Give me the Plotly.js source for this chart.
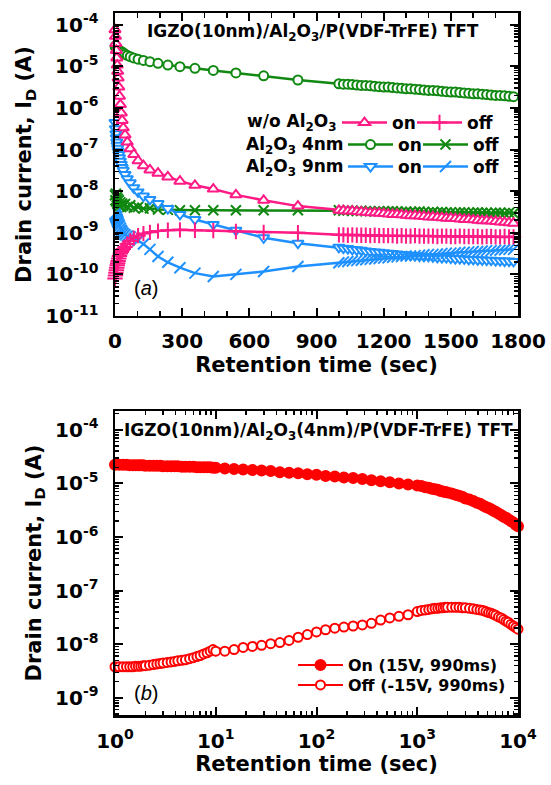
<!DOCTYPE html>
<html><head><meta charset="utf-8">
<script src="https://cdn.plot.ly/plotly-3.0.1.min.js"></script>
<style>html,body{margin:0;padding:0;background:#fff}#chart{width:551px;height:785px}</style>
</head><body><div id="chart"></div>
<script>
// ---------- Panel (a): retention vs linear time (s); currents given as log10(I/A) ----------
const timeA = [0,2,4,6,8,10,12,14,17,20,24,28,32,
  37,45,55,68,84,103,127,156,192,236,290,357,439,540,664,817,
  1000,1020,1040,1060,1080,1100,1120,1140,1160,1180,1200,1220,1240,1260,1280,1300,1320,1340,1360,1380,
  1400,1420,1440,1460,1480,1500,1520,1540,1560,1580,1600,1620,1640,1660,1680,1700,1720,1740,1760,1780];

const logA_noAl_on = [-4.12,-4.28,-4.45,-4.62,-4.80,-4.97,-5.12,-5.28,-5.50,-5.72,-5.92,-6.12,-6.30,
  -6.48,-6.65,-6.82,-6.98,-7.12,-7.27,-7.39,-7.49,-7.57,-7.66,-7.76,-7.86,-7.95,-8.09,-8.22,-8.36,
  -8.46,-8.47,-8.48,-8.48,-8.49,-8.50,-8.51,-8.52,-8.52,-8.53,
  -8.54,-8.55,-8.56,-8.56,-8.57,-8.58,-8.59,-8.59,-8.60,-8.61,
  -8.62,-8.62,-8.63,-8.64,-8.65,-8.65,-8.66,-8.67,-8.68,-8.68,
  -8.69,-8.70,-8.71,-8.71,-8.72,-8.73,-8.74,-8.75,-8.76,-8.77];
const logA_noAl_off = [-10.10,-10.03,-9.96,-9.90,-9.84,-9.78,-9.73,-9.68,-9.62,-9.56,-9.50,-9.46,-9.42,
  -9.39,-9.34,-9.27,-9.20,-9.13,-9.07,-9.02,-8.99,-8.96,-8.94,-8.93,-8.94,-8.95,-8.97,-8.99,-9.00,
  -9.05,-9.05,-9.06,-9.05,-9.06,-9.06,-9.06,-9.07,-9.06,-9.07,
  -9.07,-9.07,-9.07,-9.08,-9.07,-9.08,-9.08,-9.07,-9.08,-9.08,
  -9.08,-9.08,-9.09,-9.08,-9.08,-9.09,-9.09,-9.08,-9.09,-9.09,
  -9.09,-9.09,-9.10,-9.09,-9.09,-9.10,-9.10,-9.09,-9.10,-9.10];
const logA_4nm_on = [-4.52,-4.54,-4.55,-4.57,-4.58,-4.59,-4.60,-4.61,-4.62,-4.63,-4.64,-4.65,-4.66,
  -4.68,-4.71,-4.74,-4.77,-4.80,-4.83,-4.86,-4.89,-4.93,-4.97,-5.01,-5.05,-5.10,-5.16,-5.23,-5.33,
  -5.42,-5.43,-5.43,-5.44,-5.45,-5.46,-5.46,-5.47,-5.48,-5.49,
  -5.50,-5.50,-5.51,-5.52,-5.53,-5.54,-5.54,-5.55,-5.56,-5.57,
  -5.58,-5.58,-5.59,-5.60,-5.61,-5.62,-5.62,-5.63,-5.64,-5.65,
  -5.66,-5.66,-5.67,-5.68,-5.69,-5.70,-5.70,-5.71,-5.72,-5.73];
const logA_4nm_off = [-8.10,-8.22,-8.06,-8.25,-8.14,-8.30,-8.18,-8.33,-8.22,-8.36,-8.27,-8.38,-8.30,
  -8.35,-8.31,-8.38,-8.34,-8.40,-8.38,-8.42,-8.41,-8.44,-8.45,-8.46,-8.46,-8.46,-8.46,-8.46,-8.46,
  -8.46,-8.47,-8.46,-8.47,-8.48,-8.47,-8.48,-8.48,-8.49,-8.48,
  -8.49,-8.49,-8.48,-8.49,-8.50,-8.49,-8.50,-8.50,-8.49,-8.50,
  -8.51,-8.50,-8.51,-8.50,-8.51,-8.51,-8.52,-8.51,-8.51,-8.52,
  -8.52,-8.51,-8.52,-8.52,-8.53,-8.52,-8.52,-8.53,-8.52,-8.53];
const logA_9nm_on = [-6.35,-6.50,-6.62,-6.72,-6.82,-6.90,-6.97,-7.04,-7.12,-7.20,-7.28,-7.36,-7.43,
  -7.50,-7.60,-7.70,-7.80,-7.92,-8.02,-8.12,-8.20,-8.30,-8.42,-8.56,-8.68,-8.80,-8.94,-9.12,-9.25,
  -9.35,-9.37,-9.38,-9.40,-9.41,-9.42,-9.44,-9.45,-9.46,-9.47,
  -9.48,-9.49,-9.50,-9.51,-9.52,-9.53,-9.54,-9.55,-9.56,-9.57,
  -9.57,-9.58,-9.59,-9.60,-9.60,-9.61,-9.62,-9.62,-9.63,-9.64,
  -9.64,-9.65,-9.65,-9.66,-9.66,-9.67,-9.67,-9.68,-9.68,-9.69];
const logA_9nm_off = [-8.55,-8.58,-8.61,-8.64,-8.67,-8.70,-8.73,-8.76,-8.80,-8.84,-8.89,-8.94,-8.98,
  -9.02,-9.05,-9.08,-9.10,-9.13,-9.19,-9.27,-9.40,-9.57,-9.71,-9.84,-9.97,-10.05,-10.00,-9.93,-9.81,
  -9.72,-9.70,-9.69,-9.68,-9.67,-9.66,-9.65,-9.64,-9.63,-9.62,
  -9.61,-9.60,-9.59,-9.58,-9.57,-9.56,-9.56,-9.55,-9.54,-9.53,
  -9.52,-9.52,-9.51,-9.50,-9.49,-9.49,-9.48,-9.47,-9.47,-9.46,
  -9.45,-9.45,-9.44,-9.43,-9.43,-9.42,-9.42,-9.41,-9.40,-9.40];

// ---------- Panel (b): retention vs log time (s) ----------
const timeB = [1,1.1,1.2,1.3,1.4,1.5,1.6,1.7,1.8,1.9,2,2.2,2.4,2.6,2.8,3,3.3,3.6,3.9,4.2,4.6,5,5.5,6,6.5,7,7.6,8.2,8.8,9.4,
  10,12.3,15.2,18.7,23.1,28.5,35.1,43.3,53.4,65.8,81.1,100,123,152,187,231,285,351,433,534,658,811,
  1000,1100,1200,1300,1400,1500,1600,1700,1800,1900,2000,2200,2400,2600,2800,3000,3300,3600,3900,4200,
  4500,4800,5100,5400,5700,6000,6400,6800,7200,7600,8000,8500,9000,9500,10000];
const logB_on = [-4.65,-4.65,-4.65,-4.65,-4.66,-4.66,-4.66,-4.66,-4.66,-4.66,-4.67,-4.67,-4.67,-4.67,-4.67,
  -4.68,-4.68,-4.68,-4.68,-4.68,-4.69,-4.69,-4.69,-4.69,-4.70,-4.70,-4.70,-4.70,-4.70,-4.71,
  -4.71,-4.72,-4.73,-4.74,-4.75,-4.76,-4.77,-4.79,-4.80,-4.81,-4.83,-4.84,-4.86,-4.87,-4.89,-4.90,-4.92,-4.94,-4.96,-4.98,-5.00,-5.02,
  -5.04,-5.05,-5.07,-5.08,-5.10,-5.11,-5.12,-5.14,-5.15,-5.16,-5.17,-5.19,-5.21,-5.23,-5.25,-5.28,-5.30,-5.33,-5.36,-5.38,
  -5.41,-5.44,-5.46,-5.48,-5.51,-5.53,-5.56,-5.59,-5.62,-5.64,-5.67,-5.70,-5.73,-5.77,-5.80];
const logB_off = [-8.42,-8.42,-8.42,-8.42,-8.42,-8.42,-8.41,-8.41,-8.41,-8.40,-8.40,-8.39,-8.38,-8.37,-8.36,
  -8.35,-8.34,-8.33,-8.32,-8.31,-8.30,-8.29,-8.27,-8.25,-8.23,-8.21,-8.18,-8.16,-8.13,-8.10,
  -8.13,-8.13,-8.10,-8.06,-8.04,-8.02,-7.99,-7.97,-7.93,-7.87,-7.82,-7.77,-7.73,-7.70,-7.68,-7.66,-7.64,-7.61,-7.55,-7.51,-7.48,-7.45,
  -7.39,-7.37,-7.36,-7.35,-7.34,-7.33,-7.33,-7.32,-7.32,-7.31,-7.31,-7.31,-7.31,-7.31,-7.32,-7.32,-7.33,-7.34,-7.35,-7.36,
  -7.37,-7.39,-7.41,-7.42,-7.44,-7.46,-7.49,-7.51,-7.54,-7.57,-7.59,-7.63,-7.66,-7.69,-7.72];

// tick labels
const decadesA = [-11,-10,-9,-8,-7,-6,-5,-4];
const decadesB = [-9,-8,-7,-6,-5,-4];
const decadesX = [0,1,2,3,4];

// ---------- styling ----------
const FONT = 'DejaVu Sans, sans-serif';
const PINK = '#FF1A85', GREEN = '#118811', BLUE = '#1E90FF', RED = '#FF0000';
const toI = a => a.map(v => Math.pow(10, v));
const sup = d => '10<sup>' + d + '</sup>';
function minorVals(lo, hi) { const v = []; for (let d = lo; d < hi; d++) for (let k = 2; k <= 9; k++) v.push(k * Math.pow(10, d)); return v; }

function tr(x, logs, name, color, sym, filled, size, lw, xa, ya, leg) {
  return {
    x: x, y: toI(logs), name: name, type: 'scatter', mode: 'lines+markers',
    xaxis: xa, yaxis: ya, legend: leg, cliponaxis: false,
    line: {color: color, width: lw},
    marker: {symbol: sym, size: size, color: filled === 'fill' ? color : (filled === 'white' ? '#fff' : color),
             line: {color: color, width: 2}}
  };
}

const data = [
  tr(timeA, logA_4nm_on,  'on',  GREEN, 'circle', 'white', 9, 2.5, 'x', 'y', 'legend3'),
  tr(timeA, logA_4nm_off, 'off', GREEN, 'x-thin-open', 'line', 10, 2.5, 'x', 'y', 'legend4'),
  tr(timeA, logA_9nm_on,  'on',  BLUE, 'triangle-down', 'white', 10, 2.5, 'x', 'y', 'legend5'),
  tr(timeA, logA_9nm_off, 'off', BLUE, 'line-ne-open', 'line', 11, 2.5, 'x', 'y', 'legend6'),
  tr(timeA, logA_noAl_on, 'on',  PINK, 'triangle-up', 'white', 10, 2.5, 'x', 'y', 'legend'),
  tr(timeA, logA_noAl_off,'off', PINK, 'cross-thin-open', 'line', 11, 2.5, 'x', 'y', 'legend2'),
  tr(timeB, logB_on,  'On (15V, 990ms)',  RED, 'circle', 'fill', 10, 2, 'x2', 'y2', 'legend7'),
  tr(timeB, logB_off, 'Off (-15V, 990ms)', RED, 'circle', 'white', 9, 2, 'x2', 'y2', 'legend8')
];

const tickFont = {family: FONT, size: 20, color: '#000', weight: 'bold'};
const titleFont = {family: FONT, size: 21, color: '#000', weight: 'bold'};
const frame = {showline: true, linewidth: 2.5, linecolor: '#000', mirror: 'ticks', showgrid: false, zeroline: false,
  ticks: 'inside', ticklen: 8, tickwidth: 2, tickcolor: '#000', automargin: false};

function leg(xpx, ypx, size) {
  return {x: (xpx - 115) / 403, y: (715 - ypx) / 702, xanchor: 'left', yanchor: 'middle',
    bgcolor: 'rgba(0,0,0,0)', borderwidth: 0, itemwidth: 45,
    font: {family: FONT, size: size, color: '#000', weight: 'bold'}};
}
function ann(xpx, ypx, text, size, anchor, extra) {
  return Object.assign({xref: 'paper', yref: 'paper', x: (xpx - 115) / 403, y: (715 - ypx) / 702,
    xanchor: anchor, yanchor: 'middle', showarrow: false, text: text,
    font: {family: FONT, size: size, color: '#000', weight: 'bold'}}, extra || {});
}

const layout = {
  width: 551, height: 785,
  margin: {l: 115, r: 33, t: 13, b: 70},
  paper_bgcolor: '#fff', plot_bgcolor: '#fff',
  font: {family: FONT, color: '#000'},
  showlegend: true,
  xaxis: Object.assign({}, frame, {domain: [0, 1], anchor: 'y', range: [0, 1800], tick0: 0, dtick: 300,
    tickfont: tickFont, ticklabelstandoff: 6,
    minor: {dtick: 100, ticks: 'inside', ticklen: 5, tickwidth: 1.5, tickcolor: '#000'},
    title: {text: 'Retention time (sec)', font: titleFont, standoff: 2}}),
  yaxis: Object.assign({}, frame, {domain: [0.5684, 1], anchor: 'x', type: 'log', range: [-11, -3.72],
    tickmode: 'array', tickvals: decadesA.map(d => Math.pow(10, d)), ticktext: decadesA.map(sup),
    tickfont: tickFont, ticklabelstandoff: 10,
    minor: {tickmode: 'array', tickvals: minorVals(-11, -3), ticks: 'inside', ticklen: 4, tickwidth: 1.5, tickcolor: '#000'},
    title: {text: 'Drain current, I<sub>D</sub> (A)', font: titleFont, standoff: 8}}),
  xaxis2: Object.assign({}, frame, {domain: [0, 1], anchor: 'y2', type: 'log', range: [0, 4],
    tickmode: 'array', tickvals: decadesX.map(d => Math.pow(10, d)), ticktext: decadesX.map(sup),
    tickfont: tickFont, ticklabelstandoff: 6,
    minor: {tickmode: 'array', tickvals: minorVals(0, 4), ticks: 'inside', ticklen: 4, tickwidth: 1.5, tickcolor: '#000'},
    title: {text: 'Retention time (sec)', font: titleFont, standoff: 2}}),
  yaxis2: Object.assign({}, frame, {domain: [0, 0.433], anchor: 'x2', type: 'log', range: [-9.32, -3.65],
    tickmode: 'array', tickvals: decadesB.map(d => Math.pow(10, d)), ticktext: decadesB.map(sup),
    tickfont: tickFont, ticklabelstandoff: 10,
    minor: {tickmode: 'array', tickvals: minorVals(-10, -3), ticks: 'inside', ticklen: 4, tickwidth: 1.5, tickcolor: '#000'},
    title: {text: 'Drain current, I<sub>D</sub> (A)', font: titleFont, standoff: 8}}),
  legend:  leg(337, 123, 17),
  legend2: leg(412, 123, 17),
  legend3: leg(343, 145, 17),
  legend4: leg(418, 145, 17),
  legend5: leg(343, 167, 17),
  legend6: leg(418, 167, 17),
  legend7: leg(293, 665, 16),
  legend8: leg(293, 685, 16),
  annotations: [
    ann(313, 33, 'IGZO(10nm)/Al<sub>2</sub>O<sub>3</sub>/P(VDF-TrFE) TFT', 17, 'center'),
    ann(339, 123, 'w/o Al<sub>2</sub>O<sub>3</sub>', 17, 'right'),
    ann(346, 145, 'Al<sub>2</sub>O<sub>3</sub> 4nm', 17, 'right'),
    ann(346, 167, 'Al<sub>2</sub>O<sub>3</sub> 9nm', 17, 'right'),
    ann(146, 288, '(<i>a</i>)', 20, 'center', {font: {family: 'Liberation Sans, Arial, sans-serif', size: 20, color: '#000'}}),
    ann(318, 432, 'IGZO(10nm)/Al<sub>2</sub>O<sub>3</sub>(4nm)/P(VDF-TrFE) TFT', 17, 'center'),
    ann(146, 693, '(<i>b</i>)', 20, 'center', {font: {family: 'Liberation Sans, Arial, sans-serif', size: 20, color: '#000'}})
  ]
};

Plotly.newPlot('chart', data, layout, {staticPlot: true, displayModeBar: false});
</script>
</body></html>
